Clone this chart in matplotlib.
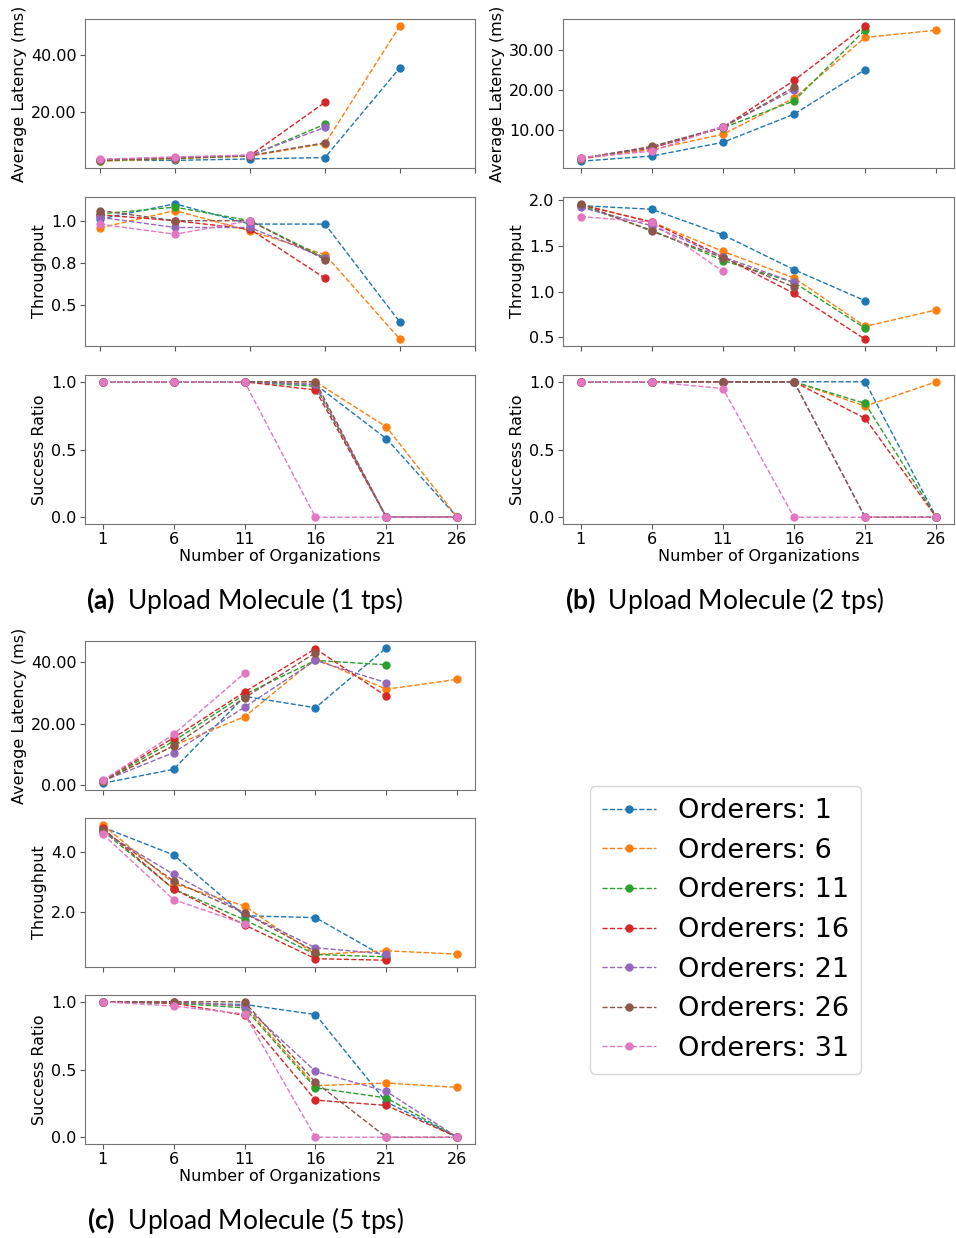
import numpy as np
import matplotlib.pyplot as plt
from matplotlib.ticker import FormatStrFormatter

plt.rcParams['font.family'] = 'DejaVu Sans'
plt.rcParams['mathtext.fontset'] = 'custom'
plt.rcParams['mathtext.rm'] = 'Lato'
plt.rcParams['mathtext.bf'] = 'Lato:bold'

nan = np.nan
orgs = [1, 6, 11, 16, 21, 26]
orderers = [1, 6, 11, 16, 21, 26, 31]

# (a) Upload Molecule, 1 tps -- one row per orderer count
lat_1tps = [
    [2.9, 2.9, 3.4, 3.9, 35.5, nan],
    [2.6, 3.5, 4.4, 8.8, 50.2, nan],
    [2.8, 3.6, 4.5, 15.6, nan, nan],
    [3.0, 3.8, 4.6, 23.3, nan, nan],
    [3.2, 3.9, 4.7, 14.5, nan, nan],
    [3.0, 3.8, 4.6, 9.1, nan, nan],
    [3.3, 4.1, 4.8, nan, nan, nan],
]
thr_1tps = [
    [1.01, 1.10, 0.98, 0.98, 0.40, nan],
    [0.957, 1.06, 0.94, 0.80, 0.30, nan],
    [1.04, 1.08, 1.00, 0.78, nan, nan],
    [1.035, 1.00, 0.95, 0.66, nan, nan],
    [1.02, 0.96, 0.96, 0.78, nan, nan],
    [1.06, 1.00, 1.00, 0.77, nan, nan],
    [0.98, 0.92, 1.00, nan, nan, nan],
]
suc_1tps = [
    [1.0, 1.0, 1.0, 0.98, 0.58, 0.0],
    [1.0, 1.0, 1.0, 1.0, 0.667, 0.0],
    [1.0, 1.0, 1.0, 0.966, 0.0, 0.0],
    [1.0, 1.0, 1.0, 0.94, 0.0, 0.0],
    [1.0, 1.0, 1.0, 0.98, 0.0, 0.0],
    [1.0, 1.0, 1.0, 1.0, 0.0, 0.0],
    [1.0, 1.0, 1.0, 0.0, 0.0, 0.0],
]

# (b) Upload Molecule, 2 tps
lat_2tps = [
    [2.3, 3.6, 7.0, 14.0, 25.1, nan],
    [2.9, 5.2, 9.0, 18.0, 33.1, 34.9],
    [2.9, 5.8, 10.6, 17.3, 35.0, nan],
    [3.0, 5.6, 10.7, 22.4, 36.0, nan],
    [3.1, 5.8, 10.9, 20.1, nan, nan],
    [2.9, 6.0, 10.7, 20.7, nan, nan],
    [3.2, 4.8, 10.9, nan, nan, nan],
]
thr_2tps = [
    [1.94, 1.90, 1.62, 1.24, 0.90, nan],
    [1.95, 1.76, 1.44, 1.15, 0.62, 0.80],
    [1.94, 1.67, 1.34, 1.10, 0.60, nan],
    [1.95, 1.76, 1.38, 0.98, 0.48, nan],
    [1.92, 1.72, 1.38, 1.10, nan, nan],
    [1.96, 1.66, 1.37, 1.05, nan, nan],
    [1.82, 1.76, 1.22, nan, nan, nan],
]
suc_2tps = [
    [1.0, 1.0, 1.0, 1.0, 1.0, 0.0],
    [1.0, 1.0, 1.0, 1.0, 0.82, 1.0],
    [1.0, 1.0, 1.0, 1.0, 0.84, 0.0],
    [1.0, 1.0, 1.0, 1.0, 0.73, 0.0],
    [1.0, 1.0, 1.0, 1.0, 0.0, 0.0],
    [1.0, 1.0, 1.0, 1.0, 0.0, 0.0],
    [1.0, 1.0, 0.95, 0.0, 0.0, 0.0],
]

# (c) Upload Molecule, 5 tps
lat_5tps = [
    [0.7, 5.2, 28.8, 25.1, 44.5, nan],
    [1.3, 12.9, 22.2, 41.0, 31.1, 34.3],
    [1.4, 14.3, 29.4, 40.4, 39.0, nan],
    [1.5, 15.4, 30.2, 44.2, 28.8, nan],
    [1.4, 10.6, 25.3, 40.4, 33.2, nan],
    [1.3, 12.8, 28.3, 42.9, nan, nan],
    [1.6, 16.5, 36.3, nan, nan, nan],
]
thr_5tps = [
    [4.80, 3.89, 1.89, 1.83, 0.51, nan],
    [4.88, 2.95, 2.21, 0.62, 0.74, 0.63],
    [4.68, 2.77, 1.76, 0.62, 0.54, nan],
    [4.76, 2.77, 1.59, 0.48, 0.43, nan],
    [4.65, 3.25, 1.98, 0.84, 0.63, nan],
    [4.71, 3.03, 1.98, 0.71, nan, nan],
    [4.57, 2.42, 1.62, nan, nan, nan],
]
suc_5tps = [
    [1.0, 0.99, 0.98, 0.906, 0.26, 0.0],
    [1.0, 1.0, 0.97, 0.38, 0.40, 0.368],
    [1.0, 0.99, 0.955, 0.365, 0.29, 0.0],
    [1.0, 0.99, 0.90, 0.274, 0.235, 0.0],
    [1.0, 1.0, 0.97, 0.486, 0.338, 0.0],
    [1.0, 1.0, 1.0, 0.405, 0.0, 0.0],
    [1.0, 0.968, 0.91, 0.0, 0.0, 0.0],
]

colors = plt.rcParams['axes.prop_cycle'].by_key()['color'][:7]

W, H = 956, 1238
fig = plt.figure(figsize=(W / 100, H / 100), dpi=100)


def px_axes(left, top, right, bottom):
    return fig.add_axes([left / W, 1 - bottom / H, (right - left) / W, (bottom - top) / H])


def draw(ax, series, ylabel, yticks, fmt, show_x):
    for vals, c, n in zip(series, colors, orderers):
        ax.plot(orgs, vals, '--o', color=c, lw=1, ms=5, label=f'Orderers: {n}')
    ax.set_xticks(orgs)
    ax.set_yticks(yticks)
    ax.yaxis.set_major_formatter(FormatStrFormatter(fmt))
    ax.set_ylabel(ylabel, fontsize=11.5, labelpad=3)
    ax.tick_params(labelsize=11.5, color='0.35', pad=2.5)
    for sp in ax.spines.values():
        sp.set_color('0.45')
    if show_x:
        ax.set_xlabel('Number of Organizations', fontsize=11.5, labelpad=1)
    else:
        ax.set_xticklabels([])


cols = [
    (85, 475, lat_1tps, thr_1tps, suc_1tps, [20, 40], [0.5, 0.75, 1.0], [19, 197, 375]),
    (563, 954, lat_2tps, thr_2tps, suc_2tps, [10, 20, 30], [0.5, 1.0, 1.5, 2.0], [19, 197, 375]),
    (85, 475, lat_5tps, thr_5tps, suc_5tps, [0, 20, 40], [2.0, 4.0], [641, 818, 995]),
]

for left, right, lat, thr, suc, lat_ticks, thr_ticks, tops in cols:
    ax1 = px_axes(left, tops[0], right, tops[0] + 149)
    draw(ax1, lat, 'Average Latency (ms)', lat_ticks, '%.2f', False)
    ax2 = px_axes(left, tops[1], right, tops[1] + 149)
    draw(ax2, thr, 'Throughput', thr_ticks, '%.1f', False)
    ax3 = px_axes(left, tops[2], right, tops[2] + 149)
    draw(ax3, suc, 'Success Ratio', [0.0, 0.5, 1.0], '%.1f', True)

handles, labels = ax3.get_legend_handles_labels()
fig.legend(handles, labels, loc='center', bbox_to_anchor=(725.5 / W, 1 - 930 / H),
           fontsize=19.5, handlelength=2.0, labelspacing=0.5, borderpad=0.45)

captions = [
    (245, 600, r'$\mathbf{(a)}$  Upload Molecule (1 tps)'),
    (725, 600, r'$\mathbf{(b)}$  Upload Molecule (2 tps)'),
    (245, 1221, r'$\mathbf{(c)}$  Upload Molecule (5 tps)'),
]
for x, y, txt in captions:
    fig.text(x / W, 1 - y / H, txt, ha='center', va='center', fontsize=19, family='Lato')

fig.savefig('out.png', dpi=100)
